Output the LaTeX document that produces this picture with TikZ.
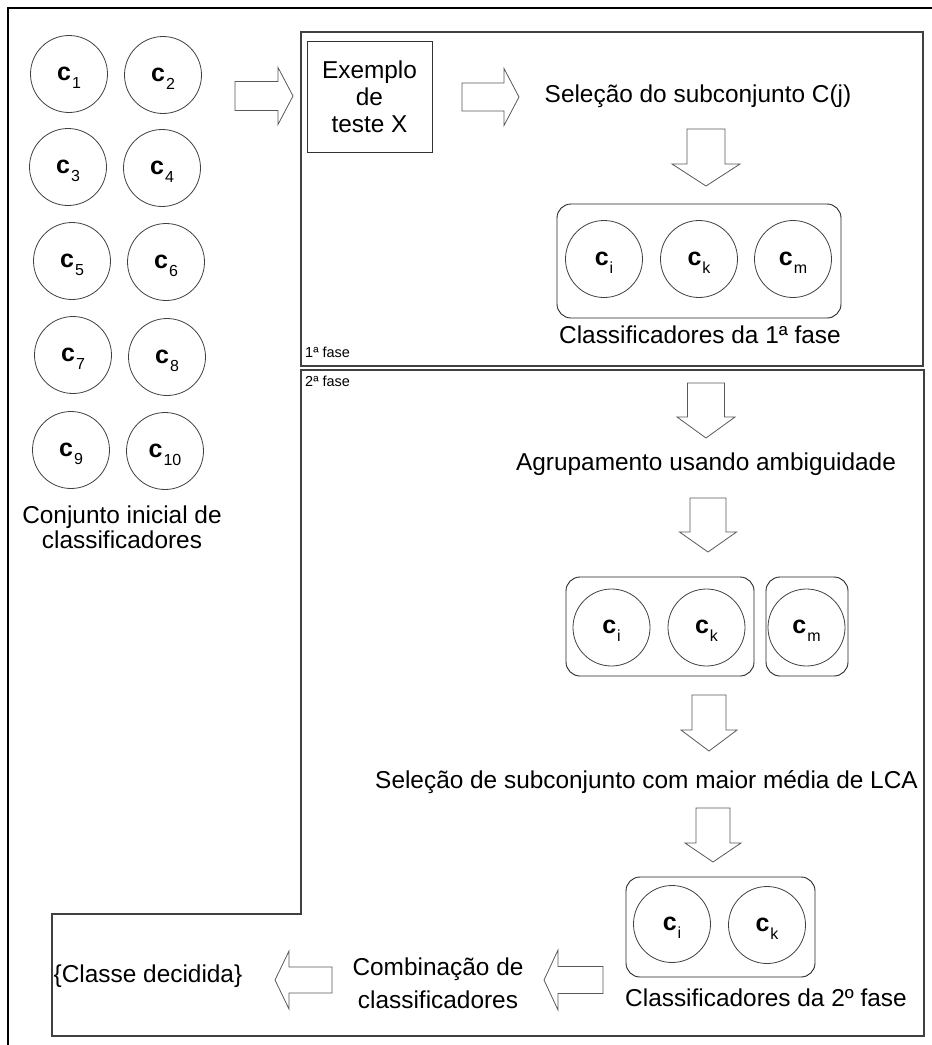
\documentclass[tikz,border=0pt]{standalone}
\usepackage{fontspec}
\setmainfont{Liberation Sans}

% classifier label: bold c with a low, light subscript
\newcommand\clab[1]{c\kern1pt\raisebox{-8pt}{\fontsize{16}{16}\selectfont\mdseries #1}}
% hollow block arrow: tip, angle, length, head length, shaft half-width, head half-width
\newcommand\blockarrow[6]{%
  \draw[blockarr, shift={#1}, rotate=#2] (0,0) -- (-#4,#6) -- (-#4,#5) -- (-#3,#5)
    -- (-#3,-#5) -- (-#4,-#5) -- (-#4,-#6) -- cycle;}

\begin{document}
\begin{tikzpicture}[x=1pt,y=-1pt,
  frame/.style={line width=1.3pt, draw=black},
  phase/.style={line width=1.4pt, draw=black!75},
  clf/.style={circle, draw=black!75, line width=0.8pt, minimum size=77pt, inner sep=0pt,
    text height=20.5pt, text depth=8pt, font=\fontsize{25}{25}\selectfont\bfseries},
  group/.style={draw=black!85, line width=0.9pt, rounded corners=14pt, inner sep=0pt},
  txt/.style={font=\fontsize{24.4}{27}\selectfont, inner sep=0pt, anchor=base},
  small/.style={font=\fontsize{14.5}{15}\selectfont, inner sep=0pt, anchor=base west},
  blockarr/.style={draw=black!65, fill=white, line width=0.8pt, line join=miter}]
\useasboundingbox (0,0) rectangle (932,1045);

% outer frame (top and left edges)
\draw[frame] (8,1045) -- (8,8) -- (932,8);

% phase regions
\draw[phase] (301,32) rectangle (923,366);
\draw[phase] (301,370) -- (924,370) -- (924,1036) -- (52,1036) -- (52,914) -- (301,914) -- cycle;
\node[small] (f1) at (305,357) {1ª fase};
\node[small] (f2) at (305,386) {2ª fase};

% initial pool of classifiers
\node[clf] (c1)  at (69,74)   {\clab{1}};
\node[clf] (c2)  at (163,75)  {\clab{2}};
\node[clf] (c3)  at (68,167)  {\clab{3}};
\node[clf] (c4)  at (162,168) {\clab{4}};
\node[clf] (c5)  at (72,261)  {\clab{5}};
\node[clf] (c6)  at (166,262) {\clab{6}};
\node[clf] (c7)  at (73,355)  {\clab{7}};
\node[clf] (c8)  at (167,357) {\clab{8}};
\node[clf] (c9)  at (71,450)  {\clab{9}};
\node[clf] (c10) at (165,451) {\clab{10}};
\node[txt] (conj1) at (122,523) {Conjunto inicial de};
\node[txt] (conj2) at (122,548) {classificadores};

\blockarrow{(293,96)}{0}{58}{15}{14.5}{28.5}

% phase 1
\node[draw=black!80, line width=0.9pt, minimum width=125pt, minimum height=111pt, inner sep=0pt,
  align=center, font=\fontsize{24.4}{27}\selectfont] (ex) at (369.5,96.5) {Exemplo\\de\\teste X};
\blockarrow{(519,97)}{0}{57}{15}{14}{28.5}
\node[txt] (sel) at (698,102) {Seleção do subconjunto C(j)};
\blockarrow{(706,186)}{-90}{57}{22}{19}{34}

\node[group, minimum width=284pt, minimum height=114pt] (g1) at (699,261) {};
\node[clf] (p1i) at (604,259) {\clab{i}};
\node[clf] (p1k) at (699,259) {\clab{k}};
\node[clf] (p1m) at (793,259) {\clab{m}};
\node[txt] (cls1) at (700,343) {Classificadores da 1ª fase};

% phase 2
\blockarrow{(706,438)}{-90}{55}{21}{18.5}{29}
\node[txt] (agr) at (706,470) {Agrupamento usando ambiguidade};
\blockarrow{(708,552)}{-90}{54}{20}{18}{28.5}

\node[group, minimum width=188pt, minimum height=99pt] (g2a) at (660,626.5) {};
\node[group, minimum width=82pt, minimum height=99pt] (g2b) at (807,626.5) {};
\node[clf] (p2i) at (611.5,627.5) {\clab{i}};
\node[clf] (p2k) at (706.5,627.5) {\clab{k}};
\node[clf] (p2m) at (806.5,627.5) {\clab{m}};

\blockarrow{(709,751)}{-90}{56}{21}{17}{28}
\node[txt] (sel2) at (646.5,788) {Seleção de subconjunto com maior média de LCA};
\blockarrow{(713,862)}{-90}{54}{19}{17}{28}

\node[group, minimum width=189pt, minimum height=100pt] (g3) at (720.5,927) {};
\node[clf] (p3i) at (672,924) {\clab{i}};
\node[clf] (p3k) at (767,925) {\clab{k}};
\node[txt] (cls2) at (766,1006) {Classificadores da 2º fase};

% combination and decision
\blockarrow{(544,980)}{180}{59}{14}{13.5}{30}
\node[txt] (comb1) at (438,975) {Combinação de};
\node[txt] (comb2) at (438,1008) {classificadores};
\blockarrow{(275,980)}{180}{57}{14}{13}{29}
\node[txt] (dec) at (148,982) {\{Classe decidida\}};
\end{tikzpicture}
\end{document}
